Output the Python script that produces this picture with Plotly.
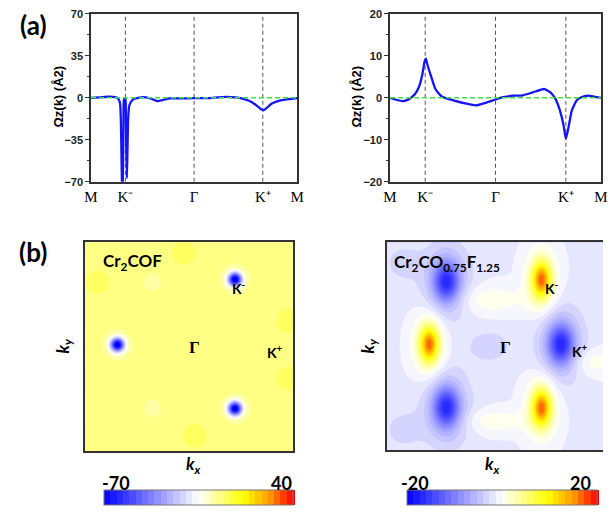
import numpy as np
import plotly.graph_objects as go

W, H = 610, 515

# ---- (a) Berry curvature along the high-symmetry path M-K- -Γ-K+ -M ----
path_pos = [0, 1, 3, 5, 6]
path_labels = ["M", "K⁻", "Γ", "K⁺", "M"]
path_marks = [1, 3, 5]  # dashed guides at K-, Γ, K+

cof_x = [0, 0.25, 0.5, 0.65, 0.75, 0.82, 0.85, 0.87, 0.89, 0.91, 0.93, 0.945, 0.96,
         1.0, 1.01, 1.025, 1.043, 1.06, 1.08, 1.11, 1.16, 1.22, 1.4, 1.6, 1.75, 1.93,
         2.1, 2.3, 2.6, 3.0, 3.4, 3.7, 3.95, 4.2, 4.4, 4.6, 4.8, 4.95, 5.03, 5.1,
         5.25, 5.4, 5.6, 5.8, 6.0]
cof_y = [0, 0.4, 0.9, 0.8, 0.2, -2, -6, -20, -55, -85, -60, -20, -1,
         -0.5, -5, -40, -67, -45, -18, -7, -3.5, -1.5, 0.2, 0.4, -0.8, -2.7,
         -1.8, -0.4, -0.5, -0.3, -0.3, 0.4, 0.8, 0.3, -0.6, -2.5, -6, -9.5, -10.3, -8.8,
         -5, -3.2, -1.8, -1, -0.2]

mix_x = [0, 0.15, 0.36, 0.5, 0.59, 0.7, 0.82, 0.92, 0.98, 1.02, 1.06, 1.15, 1.29, 1.47,
         1.8, 2.17, 2.44, 2.72, 3.0, 3.22, 3.5, 3.78, 4.06, 4.38, 4.56, 4.7, 4.83, 4.94,
         5.0, 5.08, 5.17, 5.31, 5.44, 5.63, 5.8, 6.0]
mix_y = [0, -0.4, -0.8, -0.5, 0, 0.8, 2.5, 5.6, 8.5, 9.3, 8.0, 5.6, 2.1, 0.3,
         -0.6, -1.4, -1.8, -1.2, -0.4, 0.15, 0.5, 0.6, 1.3, 2.1, 1.3, -0.2, -3, -6.8,
         -9.8, -6.8, -3, -0.6, 0.15, 0.5, 0.3, 0]

cof_ticks = [-70, -35, 0, 35, 70]
mix_ticks = [-20, -10, 0, 10, 20]

# ---- (b) Berry curvature maps over the Brillouin zone ----
# Each feature: centre (kx, ky), amplitude, widths along kx / ky
cof_bg = -2.0
cof_kx = [-0.69, 0.44, 0.44, -0.69, 0.44, 0.44, -0.35, -0.35, -0.05, 0.95, 0.95, -0.88, 0.05]
cof_ky = [0.02, 0.645, -0.59, 0.02, 0.645, -0.59, 0.62, -0.59, 0.9, 0.25, -0.3, 0.62, -0.85]
cof_amp = [-72, -72, -72, -5, -5, -5, -4, -4, 2.2, 2.2, 2.2, 2.2, 2.2]
cof_sx = [0.045, 0.045, 0.045, 0.1, 0.1, 0.1, 0.07, 0.07, 0.15, 0.15, 0.15, 0.15, 0.15]
cof_sy = [0.045, 0.045, 0.045, 0.1, 0.1, 0.1, 0.07, 0.07, 0.15, 0.15, 0.15, 0.15, 0.15]

mix_bg = -1.5
mix_kx = [-0.45, 0.61, -0.45, -0.45, 0.61, -0.45,
          0.43, -0.61, 0.43, 0.43, -0.61, 0.43,
          -0.05, 0.9, 0.0, -0.05, -0.85, -0.85]
mix_ky = [0.62, 0.02, -0.59, 0.62, 0.02, -0.59,
          0.64, 0.02, -0.59, 0.64, 0.02, -0.59,
          0.45, -0.15, -0.72, 0.0, 0.8, -0.8]
mix_amp = [-11, -11, -11, -5, -5, -5,
           12, 12, 12, 7, 7, 7,
           2.5, 2.5, 2.5, -2, -2, -2]
mix_sx = [0.08, 0.08, 0.08, 0.15, 0.15, 0.15,
          0.055, 0.055, 0.055, 0.1, 0.1, 0.1,
          0.24, 0.14, 0.22, 0.15, 0.12, 0.12]
mix_sy = [0.13, 0.13, 0.13, 0.25, 0.25, 0.25,
          0.11, 0.11, 0.11, 0.2, 0.2, 0.2,
          0.1, 0.09, 0.08, 0.12, 0.12, 0.12]

grid = np.linspace(-1, 1, 101)


def berry_map(bg, kx, ky, amp, sx, sy):
    X, Y = np.meshgrid(grid, grid)
    Z = np.full_like(X, bg)
    for x0, y0, a, wx, wy in zip(kx, ky, amp, sx, sy):
        Z += a * np.exp(-((X - x0) ** 2 / (2 * wx ** 2) + (Y - y0) ** 2 / (2 * wy ** 2)))
    return Z


cscale = [[0.0, "rgb(0,0,255)"], [0.5, "rgb(255,255,255)"], [0.74, "rgb(255,255,0)"],
          [0.88, "rgb(255,150,0)"], [1.0, "rgb(255,0,0)"]]


def pxx(x):
    return x / W


def pxy(y):
    return 1 - y / H


fig = go.Figure()

SANS = "Liberation Sans"
SERIF = "Liberation Serif"
CAL = "Lato"

# line panels
for i, (xs, ys, ticks) in enumerate([(cof_x, cof_y, cof_ticks), (mix_x, mix_y, mix_ticks)]):
    xa = "x" if i == 0 else "x2"
    ya = "y" if i == 0 else "y2"
    lo, hi = ticks[0], ticks[-1]
    for m in path_marks:
        fig.add_trace(go.Scatter(x=[m, m], y=[lo, hi], mode="lines", xaxis=xa, yaxis=ya,
                                 line=dict(color="#555555", width=1, dash="4px,3px"),
                                 showlegend=False, hoverinfo="skip"))
    fig.add_trace(go.Scatter(x=xs, y=ys, mode="lines", xaxis=xa, yaxis=ya,
                             line=dict(color="rgb(20,20,245)", width=2.3, shape="spline", smoothing=0.5),
                             showlegend=False))
    fig.add_trace(go.Scatter(x=[path_pos[0], path_pos[-1]], y=[0, 0], mode="lines", xaxis=xa, yaxis=ya,
                             line=dict(color="rgb(60,230,60)", width=1.5, dash="5px,3px"),
                             showlegend=False, hoverinfo="skip"))

# map panels
maps = [
    (berry_map(cof_bg, cof_kx, cof_ky, cof_amp, cof_sx, cof_sy), -70, 40, "x3", "y3", 196.5, 193),
    (berry_map(mix_bg, mix_kx, mix_ky, mix_amp, mix_sx, mix_sy), -20, 20, "x4", "y4", 507, 194),
]
for Z, zmin, zmax, xa, ya, cbx, cblen in maps:
    fig.add_trace(go.Contour(
        z=Z, x=grid, y=grid, xaxis=xa, yaxis=ya,
        colorscale=cscale, zmin=zmin, zmax=zmax, autocontour=False,
        contours=dict(coloring="fill", start=zmin, end=zmax, size=(zmax - zmin) / 30, showlines=False),
        line=dict(width=0),
        colorbar=dict(orientation="h", x=pxx(cbx), xanchor="center", y=pxy(512), yanchor="bottom",
                      len=cblen / W, lenmode="fraction", thickness=15, thicknessmode="pixels",
                      showticklabels=False, ticks="", outlinewidth=1, outlinecolor="#777777",
                      xpad=0, ypad=0),
        hoverinfo="skip",
    ))

line_ax = dict(showline=True, linecolor="#333333", linewidth=1.5, mirror=True, zeroline=False,
               showgrid=False)
top_y = [pxy(180), pxy(8)]

fig.update_layout(
    width=W, height=H, margin=dict(l=0, r=0, t=0, b=0),
    paper_bgcolor="white", plot_bgcolor="white",
    xaxis=dict(domain=[pxx(86), pxx(297)], range=[0, 6], tickvals=path_pos, ticktext=path_labels,
               ticks="", tickfont=dict(family=SERIF, size=15, color="black"), anchor="y", **line_ax),
    yaxis=dict(domain=top_y, range=[-70, 70], tickvals=cof_ticks, ticks="outside", ticklen=4,
               tickcolor="#333", tickfont=dict(family=SANS, size=11, color="#222", weight="bold"),
               minor=dict(dtick=17.5, ticks="outside", ticklen=2, tickcolor="#333"),
               anchor="x", **line_ax),
    xaxis2=dict(domain=[pxx(392), pxx(608)], range=[0, 6], tickvals=path_pos, ticktext=path_labels,
                ticks="", tickfont=dict(family=SERIF, size=15, color="black"), anchor="y2", **line_ax),
    yaxis2=dict(domain=top_y, range=[-20, 20], tickvals=mix_ticks, ticks="outside", ticklen=4,
                tickcolor="#333", tickfont=dict(family=SANS, size=11, color="#222", weight="bold"),
                minor=dict(dtick=5, ticks="outside", ticklen=2, tickcolor="#333"),
                anchor="x2", **line_ax),
    xaxis3=dict(domain=[pxx(80), pxx(293)], range=[-1, 1], showticklabels=False, ticks="",
                anchor="y3", **line_ax),
    yaxis3=dict(domain=[pxy(456), pxy(242)], range=[-1, 1], showticklabels=False, ticks="",
                anchor="x3", **line_ax),
    xaxis4=dict(domain=[pxx(389), 1.0], range=[-1, 1], showticklabels=False, ticks="",
                anchor="y4", showline=True, linecolor="#333333", linewidth=1.5, mirror=True,
                zeroline=False, showgrid=False),
    yaxis4=dict(domain=[pxy(455), pxy(242)], range=[-1, 1], showticklabels=False, ticks="",
                anchor="x4", showline=True, linecolor="#333333", linewidth=1.5, mirror=False,
                zeroline=False, showgrid=False),
)


def note(text, x, y, size, family=CAL, weight="bold", xanchor="center", angle=0, style="normal"):
    fig.add_annotation(text=text, x=pxx(x), y=pxy(y), xref="paper", yref="paper",
                       xanchor=xanchor, yanchor="middle", showarrow=False, textangle=angle,
                       font=dict(family=family, size=size, color="black", weight=weight, style=style))


note("(a)", 27, 19, 26)
note("(b)", 27, 252, 26)
note("Ωz(k) (Å2)", 53, 93, 13, family=SANS, angle=-90)
note("Ωz(k) (Å2)", 358, 93, 13, family=SANS, angle=-90)

note("Cr<sub>2</sub>COF", 96, 262, 17, xanchor="left")
note("K<sup>-</sup>", 228, 288, 14, xanchor="left")
note("Γ", 192, 350, 17, family=SERIF)
note("K<sup>+</sup>", 264, 354, 14, xanchor="left")
note("k<sub>y</sub>", 58, 348, 17, angle=-90, style="italic")
note("k<sub>x</sub>", 191, 470, 17, style="italic")
note("-70", 112, 488, 18)
note("40", 281, 488, 18)

note("Cr<sub>2</sub>CO<sub>0.75</sub>F<sub>1.25</sub>", 394, 263, 17, xanchor="left")
note("K<sup>-</sup>", 549, 288, 14, xanchor="left")
note("Γ", 510, 350, 17, family=SERIF)
note("K<sup>+</sup>", 576, 353, 14, xanchor="left")
note("k<sub>y</sub>", 370, 348, 17, angle=-90, style="italic")
note("k<sub>x</sub>", 497, 470, 17, style="italic")
note("-20", 418, 488, 18)
note("20", 587, 488, 18)

fig.write_html("out.html")
